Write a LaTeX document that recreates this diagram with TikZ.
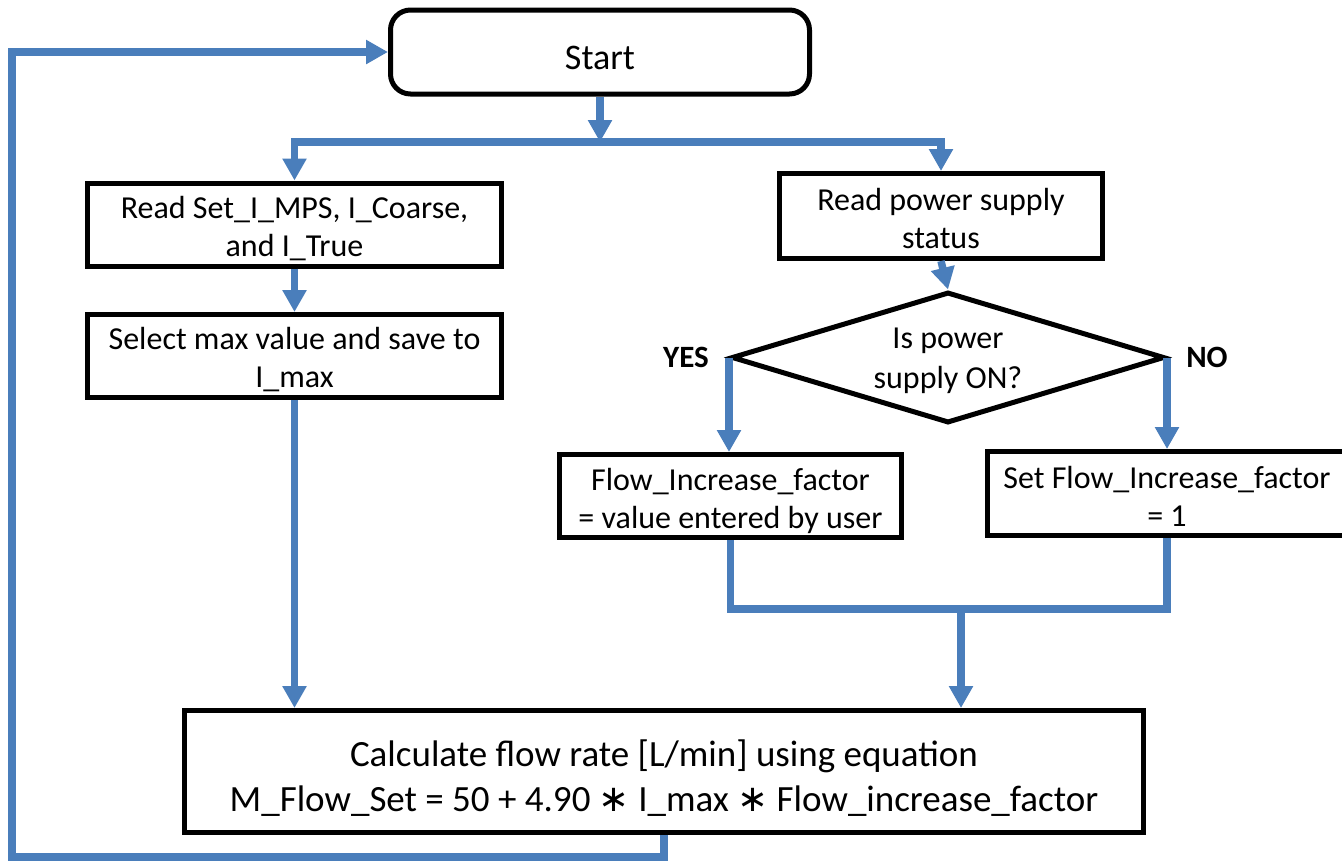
\documentclass[tikz,border=0pt]{standalone}
\usepackage{fontspec}
\setmainfont{Carlito}
\newfontfamily\symfont{DejaVu Sans}
\usetikzlibrary{arrows.meta,shapes.geometric}
\definecolor{flowblue}{RGB}{74,126,187}
\newcommand{\tstr}[1]{\rule{0pt}{#1}}
\tikzset{
  box/.style={draw=black, line width=5pt, rectangle, inner sep=0pt, align=center,
    font=\fontsize{32}{38}\selectfont},
  conn/.style={draw=flowblue, line width=7.5pt},
  arr/.style={conn, -{Triangle[length=22pt,width=23pt]}},
  lbl/.style={font=\fontsize{31}{36}\selectfont\bfseries, inner sep=0pt},
}
\begin{document}
\begin{tikzpicture}[x=1pt,y=-1pt]
\path[use as bounding box, clip] (0,0) rectangle (1342,863);
\fill[white] (0,0) rectangle (1342,863);

\node[box, rounded corners=20pt, minimum width=419pt, minimum height=84pt,
  font=\fontsize{36}{42}\selectfont] (start) at (600,52) {\tstr{36pt}Start};
\node[box, minimum width=414pt, minimum height=83pt] (b1) at (294.5,224.5)
  {\tstr{31pt}Read Set\_I\_MPS, I\_Coarse,\\and I\_True};
\node[box, minimum width=414pt, minimum height=83pt] (b2) at (294.5,356)
  {\tstr{29pt}Select max value and save to\\I\_max};
\node[box, minimum width=323pt, minimum height=85pt] (b3) at (941,216)
  {\tstr{28pt}Read power supply\\status};
\node[draw=black, line width=5pt, diamond, inner sep=0pt,
  minimum width=433pt, minimum height=131pt] (dia) at (948,357.5) {};
\node[font=\fontsize{32}{40}\selectfont, align=center] (diatext) at (948,361)
  {Is power\\supply ON?};
\node[box, minimum width=342pt, minimum height=83pt] (b4) at (730.5,496)
  {\tstr{32pt}Flow\_Increase\_factor\\= value entered by user};
\node[box, minimum width=359pt, minimum height=84pt] (b5) at (1167,493.5)
  {\tstr{28pt}Set Flow\_Increase\_factor\\= 1};
\node[box, minimum width=959pt, minimum height=122pt,
  font=\fontsize{37}{45}\selectfont] (b6) at (664,771.5)
  {\tstr{40pt}Calculate flow rate [L/min] using equation\\M\_Flow\_Set = 50 + 4.90 {\symfont ∗} I\_max {\symfont ∗} Flow\_increase\_factor};

\node[lbl] (yes) at (686,357) {YES};
\node[lbl] (no) at (1207,357) {NO};

\coordinate (split) at (600,142);
\coordinate (merge) at (961,609);
\coordinate (loopc) at (12,857);

\draw[arr] (start.south) -- (split);
\draw[arr] (split) -| (b1.north);
\draw[arr] (split) -| (b3.north);
\draw[arr] (b1.south) -- (b2.north);
\draw[arr] (b2.south) -- (b2.south |- b6.north);
\draw[arr] (b3.south) -- (dia.north);
\draw[arr] (dia.west) -- (dia.west |- b4.north);
\draw[arr] (dia.east) -- (dia.east |- b5.north);
\draw[conn] (b4.south) |- (merge) -| (b5.south);
\draw[arr] (merge) -- (merge |- b6.north);
\draw[arr] (b6.south) |- (loopc) |- (start.west);
\end{tikzpicture}
\end{document}
